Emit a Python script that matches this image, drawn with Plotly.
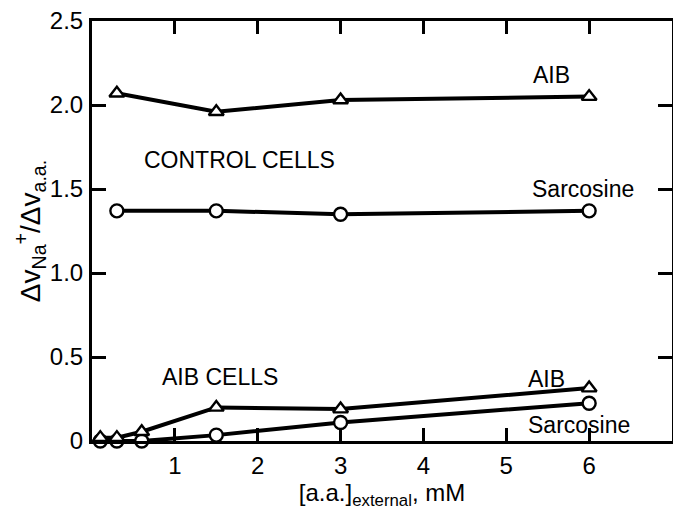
import plotly.graph_objects as go

# Control cells
ctrl_x = [0.3, 1.5, 3, 6]
ctrl_aib = [2.07, 1.96, 2.03, 2.05]
ctrl_sar = [1.37, 1.37, 1.35, 1.37]

# AIB cells
aibc_x_aib = [0.1, 0.3, 0.6, 1.5, 3, 6]
aibc_aib = [0.02, 0.02, 0.055, 0.20, 0.19, 0.315]
aibc_x_sar = [0.1, 0.3, 0.6, 1.5, 3, 6]
aibc_sar = [0.0, 0.0, 0.0, 0.035, 0.11, 0.225]

x_ticks = [1, 2, 3, 4, 5, 6]
x_ticktext = ["1", "2", "3", "4", "5", "6"]
y_ticks = [0, 0.5, 1.0, 1.5, 2.0, 2.5]
y_ticktext = ["0", "0.5", "1.0", "1.5", "2.0", "2.5"]

FONT = "Liberation Sans"

def series(x, y, symbol):
    return go.Scatter(
        x=x, y=y, mode="lines+markers", cliponaxis=False, showlegend=False,
        line=dict(color="black", width=4),
        marker=dict(symbol=symbol, size=13, color="white",
                    line=dict(color="black", width=2.4)),
    )

fig = go.Figure()
fig.add_trace(series(aibc_x_sar, aibc_sar, "circle"))
fig.add_trace(series(aibc_x_aib, aibc_aib, "triangle-up"))
fig.add_trace(series(ctrl_x, ctrl_sar, "circle"))
fig.add_trace(series(ctrl_x, ctrl_aib, "triangle-up"))

ann_font = dict(family=FONT, size=23, color="black")
annotations = [
    ("AIB", 5.54, 2.18),
    ("CONTROL CELLS", 1.78, 1.67),
    ("Sarcosine", 5.93, 1.50),
    ("AIB CELLS", 1.55, 0.38),
    ("AIB", 5.49, 0.37),
    ("Sarcosine", 5.88, 0.095),
]
for text, x, y in annotations:
    fig.add_annotation(x=x, y=y, text=text, showarrow=False, font=ann_font,
                       xanchor="center", yanchor="middle")

fig.update_layout(
    width=673, height=522,
    margin=dict(l=92, r=1, t=21, b=81),
    plot_bgcolor="white", paper_bgcolor="white",
    font=dict(family=FONT, color="black"),
    xaxis=dict(
        range=[0, 7.0], tickvals=x_ticks, ticktext=x_ticktext,
        ticks="inside", ticklen=13, tickwidth=3, tickcolor="black",
        showline=True, linewidth=3, linecolor="black", mirror="ticks",
        showgrid=False, zeroline=False, automargin=False,
        tickfont=dict(family=FONT, size=24, color="black"),
        ticklabelstandoff=1,
        title=dict(text="[a.a.]<sub>external</sub>, mM",
                   font=dict(family=FONT, size=24, color="black"), standoff=2),
    ),
    yaxis=dict(
        range=[0, 2.5], tickvals=y_ticks, ticktext=y_ticktext,
        ticks="inside", ticklen=14, tickwidth=3, tickcolor="black",
        showline=True, linewidth=3, linecolor="black", mirror="ticks",
        showgrid=False, zeroline=False, automargin=False,
        tickfont=dict(family=FONT, size=24, color="black"),
        ticklabelstandoff=1,
        title=dict(text="Δv<sub>Na</sub><sup>+</sup>/Δv<sub>a.a.</sub>",
                   font=dict(family=FONT, size=28, color="black"), standoff=0),
    ),
)

fig.write_html("out.html", config={"displayModeBar": False},
               post_script="document.body.style.margin='0';")
